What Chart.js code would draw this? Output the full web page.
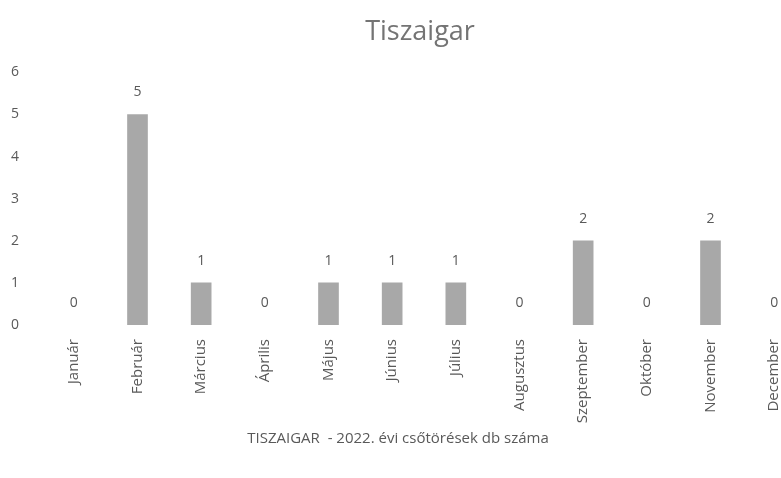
<!DOCTYPE html>
<html>
<head>
<meta charset="utf-8">
<script src="https://cdn.jsdelivr.net/npm/chart.js@4/dist/chart.umd.min.js"></script>
<style>
  html, body { margin: 0; padding: 0; background: #ffffff; overflow: hidden; }
  #wrap { width: 840px; height: 478px; position: relative; }
  canvas { display: block; }
</style>
</head>
<body>
<div id="wrap"><canvas id="c" width="840" height="478" style="width:840px;height:478px"></canvas></div>
<script>
const months = ['Január','Február','Március','Április','Május','Június','Július','Augusztus','Szeptember','Október','November','December'];
const breaks = [0, 5, 1, 0, 1, 1, 1, 0, 2, 0, 2, 0];
const yTicks = [0, 1, 2, 3, 4, 5, 6];
const chartTitle = 'Tiszaigar';
const caption = 'TISZAIGAR  - 2022. évi csőtörések db száma';

const FONT = "'Open Sans', 'DejaVu Sans', sans-serif";
const TEXT = '#595959';

const valueLabels = {
  id: 'valueLabels',
  afterDatasetsDraw(chart) {
    const ctx = chart.ctx;
    const meta = chart.getDatasetMeta(0);
    ctx.save();
    ctx.font = "14px " + FONT;
    ctx.fillStyle = TEXT;
    ctx.textAlign = 'center';
    ctx.textBaseline = 'middle';
    meta.data.forEach((bar, i) => {
      ctx.fillText(String(breaks[i]), bar.x, bar.y - 22);
    });
    ctx.restore();
  }
};

const captionPlugin = {
  id: 'captionPlugin',
  afterDraw(chart) {
    const ctx = chart.ctx;
    ctx.save();
    ctx.font = "15px " + FONT;
    ctx.fillStyle = TEXT;
    ctx.textAlign = 'center';
    ctx.textBaseline = 'middle';
    ctx.fillText(caption, 398, 439);
    ctx.restore();
  }
};

new Chart(document.getElementById('c'), {
  type: 'bar',
  data: {
    labels: months,
    datasets: [{
      data: breaks,
      backgroundColor: (c) => (c.raw === 0 ? 'rgba(0,0,0,0)' : '#a8a8a8'),
      borderWidth: 0,
      barThickness: 20
    }]
  },
  options: {
    responsive: false,
    animation: false,
    layout: { padding: 0 },
    plugins: {
      legend: { display: false },
      tooltip: { enabled: false },
      title: {
        display: true,
        text: chartTitle,
        color: '#747474',
        font: { family: FONT, size: 27, weight: 'normal' },
        padding: { top: 16, bottom: 24 }
      }
    },
    scales: {
      x: {
        grid: { display: false, drawTicks: false },
        border: { display: false },
        ticks: {
          color: TEXT,
          font: { family: FONT, size: 15 },
          minRotation: 90,
          maxRotation: 90,
          autoSkip: false,
          padding: 14
        },
        afterFit(scale) {
          scale.height = 478 - 325;
          scale.paddingLeft = 0;
          scale.paddingRight = 34;
        }
      },
      y: {
        min: 0,
        max: 6,
        grid: { display: false, drawTicks: false },
        border: { display: false },
        afterBuildTicks(scale) { scale.ticks = yTicks.map(v => ({ value: v })); },
        ticks: {
          color: TEXT,
          font: { family: FONT, size: 14 },
          padding: 23
        },
        afterFit(scale) { scale.width = 42; }
      }
    }
  },
  plugins: [valueLabels, captionPlugin]
});
</script>
</body>
</html>
